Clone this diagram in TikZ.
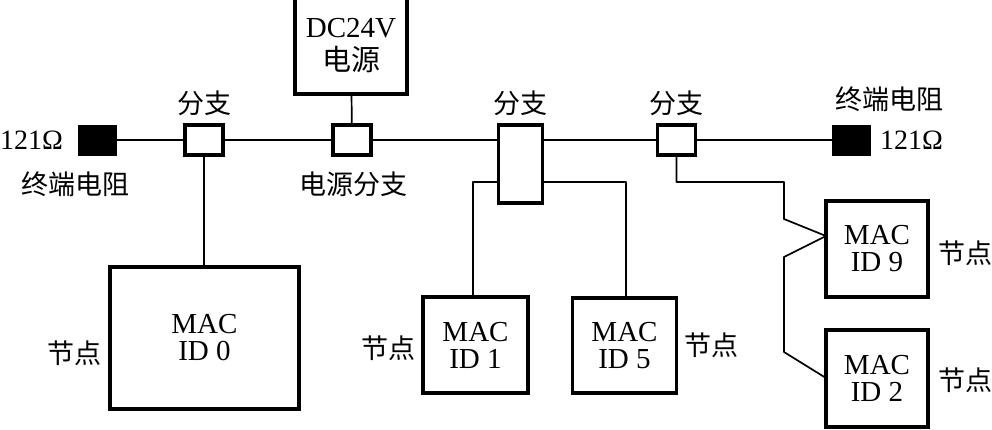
\documentclass[tikz,border=0pt]{standalone}
\usepackage{fontspec}
\setmainfont{Liberation Serif}
\newfontfamily\cjk{Noto Sans CJK SC}
\begin{document}
\begin{tikzpicture}[x=1pt,y=-1pt,
  box/.style={draw,line width=3.2pt,inner sep=0pt,align=center,font=\fontsize{29}{27}\selectfont},
  sbox/.style={box,minimum width=38pt,minimum height=30pt},
  term/.style={fill=black,draw=black,line width=0pt,inner sep=0pt,minimum width=38pt,minimum height=30pt},
  wire/.style={line width=1.7pt,line join=round},
  lbl/.style={inner sep=0pt,font=\fontsize{28}{30}\selectfont},
  clbl/.style={inner sep=0pt,font=\cjk\fontsize{27}{30}\selectfont}]
\useasboundingbox (0,0) rectangle (992,429);
% bus elements
\node[term] (tl) at (97.5,140) {};
\node[sbox] (b1) at (204,140) {};
\node[sbox] (pw) at (352,140) {};
\node[box,minimum width=112pt,minimum height=97pt,font=\fontsize{29}{33}\selectfont] (dc) at (351,45.5) {DC24V\\{\cjk 电源}};
\node[box,minimum width=44pt,minimum height=78pt] (b3) at (520.5,164) {};
\node[sbox] (b4) at (676.5,140) {};
\node[term] (tr) at (851,140) {};
% nodes
\node[box,minimum width=189pt,minimum height=142pt] (m0) at (204.5,338) {MAC\\ID 0};
\node[box,minimum width=105pt,minimum height=96pt] (m1) at (475.5,345) {MAC\\ID 1};
\node[box,minimum width=104pt,minimum height=95pt] (m5) at (624.5,345.5) {MAC\\ID 5};
\node[box,minimum width=102pt,minimum height=96pt] (m9) at (877,249) {MAC\\ID 9};
\node[box,minimum width=102pt,minimum height=97pt] (m2) at (877,378.5) {MAC\\ID 2};
% labels
\node[lbl,anchor=west] (r1) at (0,140) {121Ω};
\node[lbl,anchor=west] (r2) at (880,140) {121Ω};
\node[clbl] (t1) at (75,184) {终端电阻};
\node[clbl] (t2) at (889,99) {终端电阻};
\node[clbl] (f1) at (204,103) {分支};
\node[clbl] (f3) at (520,103) {分支};
\node[clbl] (f4) at (676,103) {分支};
\node[clbl] (pl) at (353,184) {电源分支};
\node[clbl] (n0) at (74,353) {节点};
\node[clbl] (n1) at (388,348) {节点};
\node[clbl] (n5) at (711,345) {节点};
\node[clbl] (n9) at (965,253) {节点};
\node[clbl] (n2) at (965,380) {节点};
% wires
\draw[wire] (tl) -- (b1);
\draw[wire] (b1) -- (pw);
\draw[wire] (pw.east) -- (pw.east -| b3.west);
\draw[wire] (b3.east |- b4.west) -- (b4.west);
\draw[wire] (b4) -- (tr);
\draw[wire] (b1) -- (b1 |- m0.north);
\draw[wire] (pw) -- (dc);
\coordinate (j1) at (473,182);
\draw[wire] (b3.west |- j1) -- (j1) -- (j1 |- m1.north);
\coordinate (j5) at (626,182);
\draw[wire] (b3.east |- j5) -- (j5) -- (j5 |- m5.north);
\coordinate (c1) at (784,182);
\coordinate (c2) at (784,219);
\coordinate (p9) at (826,236);
\coordinate (c3) at (784,257);
\coordinate (c4) at (784,352);
\coordinate (p2) at (826,378);
\draw[wire] (b4.south) |- (c1) -- (c2) -- (p9) -- (c3) -- (c4) -- (p2);
\end{tikzpicture}
\end{document}
